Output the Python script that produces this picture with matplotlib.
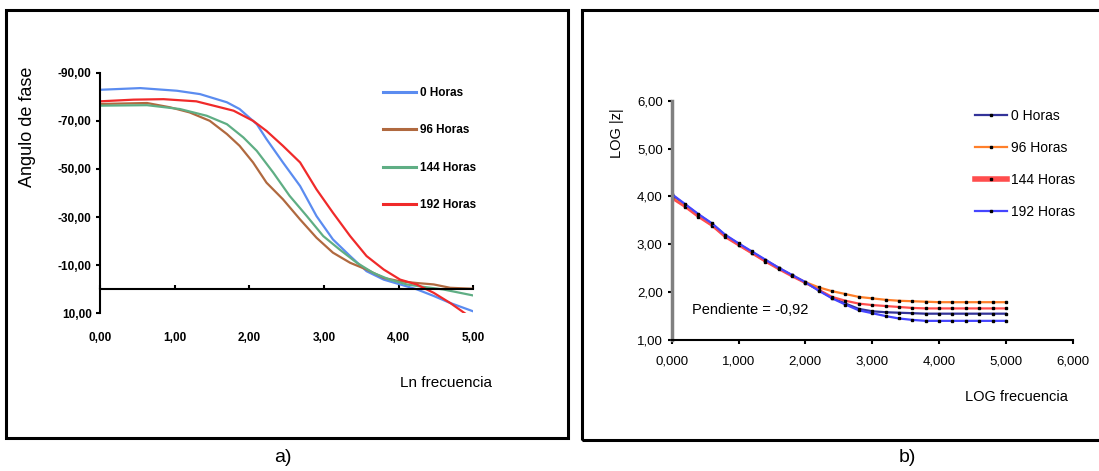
import matplotlib.pyplot as plt
from matplotlib.patches import Rectangle

plt.rcParams['font.family'] = ['Liberation Sans', 'DejaVu Sans']

series = ['0 Horas', '96 Horas', '144 Horas', '192 Horas']

# a) angulo de fase vs ln frecuencia
ln_f_0 = [0.00, 0.54, 1.03, 1.34, 1.70, 1.87, 2.10, 2.23, 2.45, 2.68, 2.90,
          3.12, 3.35, 3.57, 3.80, 4.02, 4.24, 4.47, 4.69, 5.00]
fase_0 = [-82.9, -83.6, -82.5, -81.1, -77.7, -74.9, -68.6, -62.4, -52.7, -42.9,
          -30.4, -20.7, -13.8, -7.5, -4.0, -2.0, 0.0, 2.8, 5.7, 9.2]

ln_f_96 = [0.00, 0.63, 0.94, 1.20, 1.47, 1.70, 1.87, 2.05, 2.23, 2.45, 2.68,
           2.90, 3.12, 3.35, 3.57, 3.80, 4.02, 4.24, 4.47, 4.69, 5.00]
fase_96 = [-77.0, -77.4, -75.6, -73.5, -70.0, -64.5, -59.6, -52.7, -44.3, -37.4,
           -29.0, -21.4, -15.2, -11.0, -8.2, -4.7, -3.3, -2.6, -2.0, -0.6, -0.2]

ln_f_144 = [0.00, 0.63, 1.07, 1.43, 1.70, 1.92, 2.10, 2.32, 2.54, 2.77, 2.99,
            3.21, 3.44, 3.66, 3.88, 4.11, 4.33, 4.60, 5.00]
fase_144 = [-76.3, -76.5, -74.9, -72.1, -68.6, -63.1, -57.5, -48.5, -38.8, -30.4,
            -22.1, -16.5, -11.0, -6.8, -4.0, -2.0, -1.0, 0.1, 2.6]

ln_f_192 = [0.00, 0.45, 0.85, 1.29, 1.56, 1.79, 2.05, 2.23, 2.45, 2.68, 2.90,
            3.12, 3.35, 3.57, 3.80, 4.02, 4.24, 4.47, 4.69, 4.91]
fase_192 = [-78.1, -78.8, -79.0, -78.1, -76.0, -74.2, -70.0, -65.8, -59.6, -52.7,
            -41.5, -31.8, -22.1, -13.8, -8.2, -4.0, -2.0, 1.5, 5.7, 10.5]

# b) LOG |z| vs LOG frecuencia
log_f = [0.0, 0.2, 0.4, 0.6, 0.8, 1.0, 1.2, 1.4, 1.6, 1.8, 2.0, 2.2, 2.4,
         2.6, 2.8, 3.0, 3.2, 3.4, 3.6, 3.8, 4.0, 4.2, 4.4, 4.6, 4.8, 5.0]
log_z_0 = [4.03, 3.83, 3.62, 3.43, 3.19, 3.01, 2.84, 2.67, 2.51, 2.35, 2.20,
           2.04, 1.88, 1.76, 1.65, 1.60, 1.58, 1.57, 1.56, 1.55, 1.55, 1.55,
           1.55, 1.55, 1.55, 1.55]
log_z_96 = [3.98, 3.80, 3.59, 3.40, 3.17, 2.99, 2.82, 2.65, 2.50, 2.35, 2.21,
            2.10, 2.02, 1.96, 1.90, 1.87, 1.84, 1.82, 1.81, 1.80, 1.79, 1.79,
            1.79, 1.79, 1.79, 1.79]
log_z_144 = [3.96, 3.78, 3.57, 3.39, 3.15, 2.98, 2.81, 2.64, 2.48, 2.33, 2.19,
             2.05, 1.90, 1.82, 1.76, 1.73, 1.71, 1.69, 1.67, 1.66, 1.66, 1.66,
             1.66, 1.66, 1.66, 1.66]
log_z_192 = [4.05, 3.84, 3.63, 3.44, 3.20, 3.02, 2.85, 2.68, 2.51, 2.36, 2.21,
             2.03, 1.87, 1.74, 1.62, 1.56, 1.50, 1.45, 1.42, 1.40, 1.40, 1.40,
             1.40, 1.40, 1.40, 1.40]

W, H = 1099, 471


def px_axes(x0, y_top, x1, y_bot):
    return [x0 / W, (H - y_bot) / H, (x1 - x0) / W, (y_bot - y_top) / H]


fig = plt.figure(figsize=(W / 100, H / 100), dpi=100)

# frames round each panel
fig.add_artist(Rectangle((6 / W, (H - 438) / H), 562 / W, 428 / H,
                         transform=fig.transFigure, fill=False, lw=2.2, ec='black'))
fig.add_artist(Rectangle((582 / W, (H - 440) / H), 540 / W, 430 / H,
                         transform=fig.transFigure, fill=False, lw=2.2, ec='black'))
fig.text(283 / W, (H - 458) / H, 'a)', fontsize=14, ha='center', va='center')
fig.text(907 / W, (H - 458) / H, 'b)', fontsize=14, ha='center', va='center')

# ---- a) ----
ax1 = fig.add_axes(px_axes(100, 72.7, 473.3, 313.3))
cols_a = ['#5b8cf0', '#b0693f', '#5fae84', '#f02a2a']
for x, y, c, lab in zip([ln_f_0, ln_f_96, ln_f_144, ln_f_192],
                        [fase_0, fase_96, fase_144, fase_192], cols_a, series):
    ax1.plot(x, y, color=c, lw=1.6, label=lab)
ax1.set_xlim(0, 5)
ax1.set_ylim(10, -90)
ax1.spines['top'].set_visible(False)
ax1.spines['right'].set_visible(False)
ax1.spines['bottom'].set_position(('data', 0))
ax1.spines['left'].set_linewidth(1.5)
ax1.spines['bottom'].set_linewidth(1.5)
ax1.set_xticks([0, 1, 2, 3, 4, 5])
ax1.set_xticklabels(['0,00', '1,00', '2,00', '3,00', '4,00', '5,00'])
ax1.set_yticks([-90, -70, -50, -30, -10, 10])
ax1.set_yticklabels(['-90,00', '-70,00', '-50,00', '-30,00', '-10,00', '10,00'])
ax1.tick_params(axis='x', direction='in', length=3, width=1.5, pad=31,
                labelsize=8.5)
ax1.tick_params(axis='y', direction='out', length=3, width=1.5, pad=3,
                labelsize=8.5)
for t in ax1.get_xticklabels() + ax1.get_yticklabels():
    t.set_fontweight('bold')
fig.text(28 / W, (H - 127) / H, 'Angulo de fase', rotation=90, fontsize=13,
         ha='center', va='center')
fig.text(446 / W, (H - 383) / H, 'Ln frecuencia', fontsize=11,
         ha='center', va='center')
leg1 = ax1.legend(loc='upper left', bbox_to_anchor=(383 / W, (H - 87) / H),
                  bbox_transform=fig.transFigure, frameon=False, fontsize=8.5,
                  handlelength=2.8, handletextpad=0.3, labelspacing=2.15,
                  borderpad=0, borderaxespad=0)
for t in leg1.get_texts():
    t.set_fontweight('bold')
for ln in leg1.get_lines():
    ln.set_linewidth(2.2)

# ---- b) ----
ax2 = fig.add_axes(px_axes(671.7, 100.7, 1072.7, 340))
cols_b = ['#333399', '#ff7f2a', '#ff4d4d', '#4545ff']
for y, c, lab in zip([log_z_0, log_z_96, log_z_144, log_z_192], cols_b, series):
    ax2.plot(log_f, y, color=c, lw=1.6, marker='s', ms=1.6, mfc='black',
             mec='black', label=lab)
ax2.set_xlim(0, 6)
ax2.set_ylim(1, 6)
ax2.spines['top'].set_visible(False)
ax2.spines['right'].set_visible(False)
ax2.spines['left'].set_color('#808080')
ax2.spines['left'].set_linewidth(2.5)
ax2.spines['bottom'].set_linewidth(1.5)
ax2.set_xticks([0, 1, 2, 3, 4, 5, 6])
ax2.set_xticklabels(['0,000', '1,000', '2,000', '3,000', '4,000', '5,000', '6,000'])
ax2.set_yticks([1, 2, 3, 4, 5, 6])
ax2.set_yticklabels(['1,00', '2,00', '3,00', '4,00', '5,00', '6,00'])
ax2.tick_params(axis='both', direction='out', length=3, width=1.5,
                labelsize=9.5)
ax2.tick_params(axis='x', pad=8)
ax2.text(0.3, 1.63, 'Pendiente = -0,92', fontsize=10.5, ha='left', va='center')
fig.text(617 / W, (H - 133) / H, 'LOG |z|', rotation=90, fontsize=10.5,
         ha='center', va='center')
fig.text(1016 / W, (H - 397) / H, 'LOG frecuencia', fontsize=10.5,
         ha='center', va='center')
leg2 = ax2.legend(loc='upper left', bbox_to_anchor=(975 / W, (H - 109) / H),
                  bbox_transform=fig.transFigure, frameon=False, fontsize=10,
                  handlelength=2.3, handletextpad=0.3, labelspacing=1.3,
                  borderpad=0, borderaxespad=0, numpoints=1)
leg2.get_lines()[2].set_linewidth(4)

fig.savefig('out.png', dpi=100)
